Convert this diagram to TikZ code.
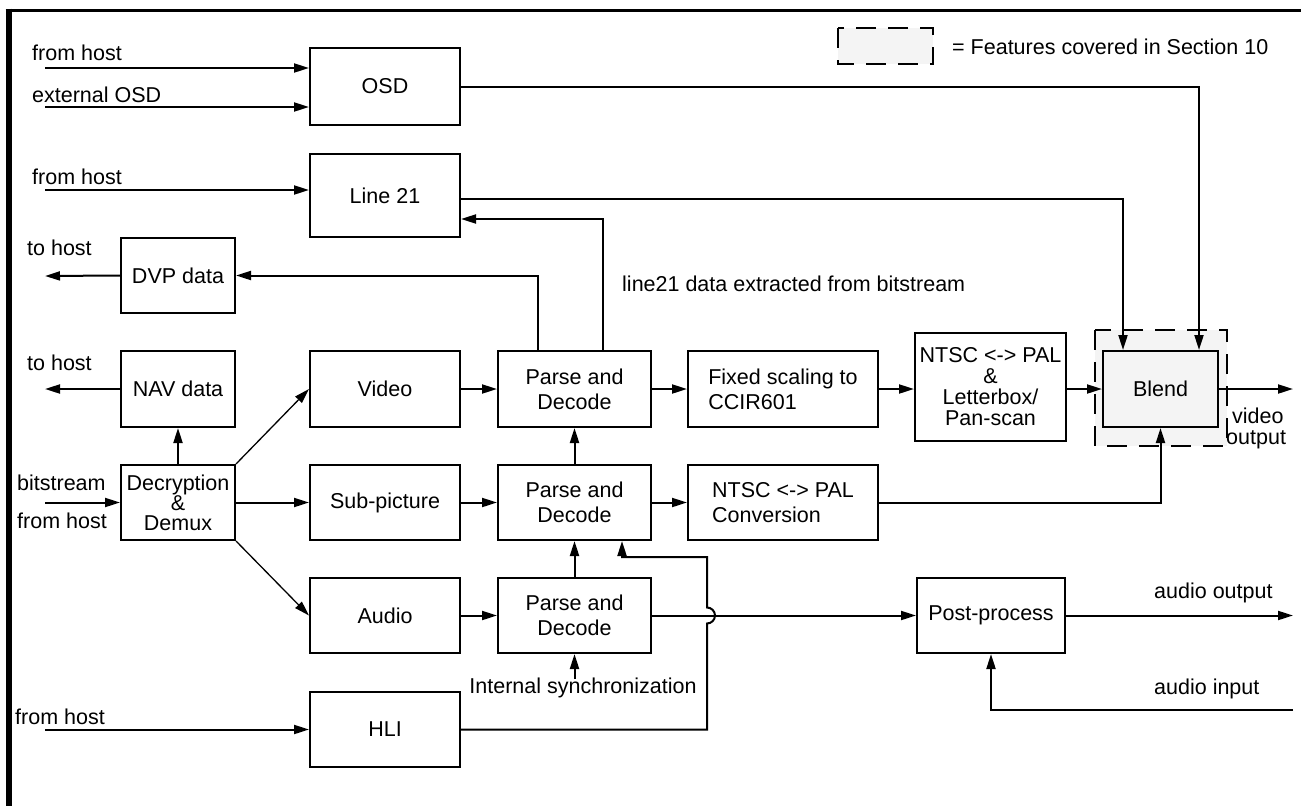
\documentclass[tikz,border=0pt]{standalone}
\usepackage{fontspec}
\setmainfont{Liberation Sans}
\usetikzlibrary{arrows.meta}
\definecolor{legendgray}{HTML}{F4F4F4}
\tikzset{
  box/.style={draw, line width=2pt, inner sep=0pt, font=\fontsize{21.5}{25}\selectfont, align=center},
  lbl/.style={inner sep=0pt, font=\fontsize{21.5}{25}\selectfont},
  arr/.style={line width=2pt, -{Triangle[length=15pt,width=9pt]}},
  thinarr/.style={line width=1.3pt, -{Triangle[length=15pt,width=9pt]}},
  ln/.style={line width=2pt},
  region/.style={draw, line width=2pt, fill=legendgray, dash pattern=on 20pt off 12pt}
}
\begin{document}
\begin{tikzpicture}[x=1pt,y=-1pt]
\useasboundingbox (0,0) rectangle (1301,806);
% frame
\draw[line width=6pt] (8.5,8.7) -- (8.5,806);
\draw[line width=3.5pt] (5.5,10.5) -- (1301,10.5);
% legend
\draw[region] (838,28) rectangle (933,64);
\node[lbl, anchor=west] (legtext) at (952,47) {= Features covered in Section 10};
% highlighted region round Blend
\draw[region] (1095,330) rectangle (1227,446);
% boxes
\node[box, minimum width=150, minimum height=77] (osd) at (385,86.5) {OSD};
\node[box, minimum width=150, minimum height=83] (line21) at (385,195.5) {Line 21};
\node[box, minimum width=114, minimum height=75] (dvp) at (178,275.5) {DVP data};
\node[box, minimum width=114, minimum height=76] (nav) at (178,389) {NAV data};
\node[box, minimum width=114, minimum height=75, font=\fontsize{21.5}{20}\selectfont] (dec) at (178,502.5) {Decryption\\\&\\Demux};
\node[box, minimum width=150, minimum height=76] (video) at (385,389) {Video};
\node[box, minimum width=150, minimum height=75] (sub) at (385,502.5) {Sub-picture};
\node[box, minimum width=150, minimum height=75] (audio) at (385,615.5) {Audio};
\node[box, minimum width=150, minimum height=75] (hli) at (385,729.5) {HLI};
\node[box, minimum width=153, minimum height=76] (p1) at (574.5,389) {Parse and\\Decode};
\node[box, minimum width=153, minimum height=75] (p2) at (574.5,502.5) {Parse and\\Decode};
\node[box, minimum width=153, minimum height=75] (p3) at (574.5,615.5) {Parse and\\Decode};
\node[box, minimum width=190, minimum height=76, align=left] (fix) at (783,389) {Fixed scaling to\\CCIR601};
\node[box, minimum width=190, minimum height=75, align=left] (conv) at (783,502.5) {NTSC <-> PAL\\Conversion};
\node[box, minimum width=151, minimum height=108, font=\fontsize{21.5}{21}\selectfont] (lb) at (990.5,387) {NTSC <-> PAL\\\&\\Letterbox/\\Pan-scan};
\node[box, minimum width=115, minimum height=76, fill=legendgray] (blend) at (1160.5,389) {Blend};
\node[box, minimum width=148, minimum height=75] (post) at (991,615.5) {Post-process};
% free ends
\coordinate (in1) at (45,68);
\coordinate (in2) at (45,107);
\coordinate (in3) at (45,190);
\coordinate (out1) at (45,276);
\coordinate (out2) at (45,389);
\coordinate (bs) at (45,502.5);
\coordinate (hl) at (45,729.5);
\coordinate (vo) at (1293,389);
\coordinate (ao) at (1293,615.5);
\coordinate (ai) at (1293,710);
\coordinate (sync) at (574.5,679);
% labels
\node[lbl, anchor=west] (t1) at (32,53) {from host};
\node[lbl, anchor=west] (t2) at (32,95) {external OSD};
\node[lbl, anchor=west] (t3) at (32,177) {from host};
\node[lbl, anchor=west] (t4) at (27,248) {to host};
\node[lbl, anchor=west] (t5) at (27,363) {to host};
\node[lbl, anchor=west] (t6) at (17,483) {bitstream};
\node[lbl, anchor=west] (t7) at (17,521) {from host};
\node[lbl, anchor=west] (t8) at (15,717) {from host};
\node[lbl, anchor=west] (t9) at (622,284) {line21 data extracted from bitstream};
\node[lbl] (t10) at (583,688) {Internal synchronization};
\node[lbl, anchor=west] (t11) at (1154,593) {audio output};
\node[lbl, anchor=west] (t12) at (1154,689) {audio input};
\node[lbl, anchor=west] (t13) at (1232,416) {video};
\node[lbl, anchor=west] (t14) at (1226,440) {output};
% inputs / outputs
\draw[arr] (in1) -- (in1 -| osd.west);
\draw[arr] (in2) -- (in2 -| osd.west);
\draw[arr] (in3) -- (in3 -| line21.west);
\draw[arr] (dvp.west) -- (out1);
\draw[arr] (nav.west) -- (out2);
\draw[arr] (bs) -- (dec.west);
\draw[arr] (hl) -- (hli.west);
% demux
\draw[arr] (dec.north) -- (nav.south);
\draw[thinarr] (dec.north east) -- (video.west);
\draw[arr] (dec.east) -- (sub.west);
\draw[thinarr] (dec.south east) -- (audio.west);
\draw[arr] (video.east) -- (p1.west);
\draw[arr] (sub.east) -- (p2.west);
\draw[arr] (audio.east) -- (p3.west);
% decode chain
\draw[arr] (p3.north) -- (p2.south);
\draw[arr] (p2.north) -- (p1.south);
\draw[arr] (sync) -- (p3.south);
\draw[arr] ([xshift=-36.5pt]p1.north) |- (dvp.east);
\draw[arr] ([xshift=28.5pt]p1.north) |- ([yshift=-23.5pt]line21.east);
\draw[arr] (p1.east) -- (fix.west);
\draw[arr] (fix.east) -- (fix.east -| lb.west);
\draw[arr] (lb.east |- blend.west) -- (blend.west);
\draw[arr] (blend.east) -- (vo);
\draw[arr] (p2.east) -- (conv.west);
\draw[arr] (conv.east) -| (blend.south);
\draw[arr] ([yshift=-3.5pt]line21.east) -| ([xshift=-37.5pt]blend.north);
\draw[arr] (osd.east) -| ([xshift=38.5pt]blend.north);
% audio
\draw[arr] (p3.east) -- (post.west);
\draw[arr] (post.east) -- (ao);
\draw[arr] (ai) -| (post.south);
% HLI feedback with line jump
\draw[arr] (hli.east) -- (707,729.5) -- (707,623.5) arc[start angle=-90,end angle=90,radius=8pt] -- (707,557) -| ([xshift=47.5pt]p2.south);
\end{tikzpicture}
\end{document}
